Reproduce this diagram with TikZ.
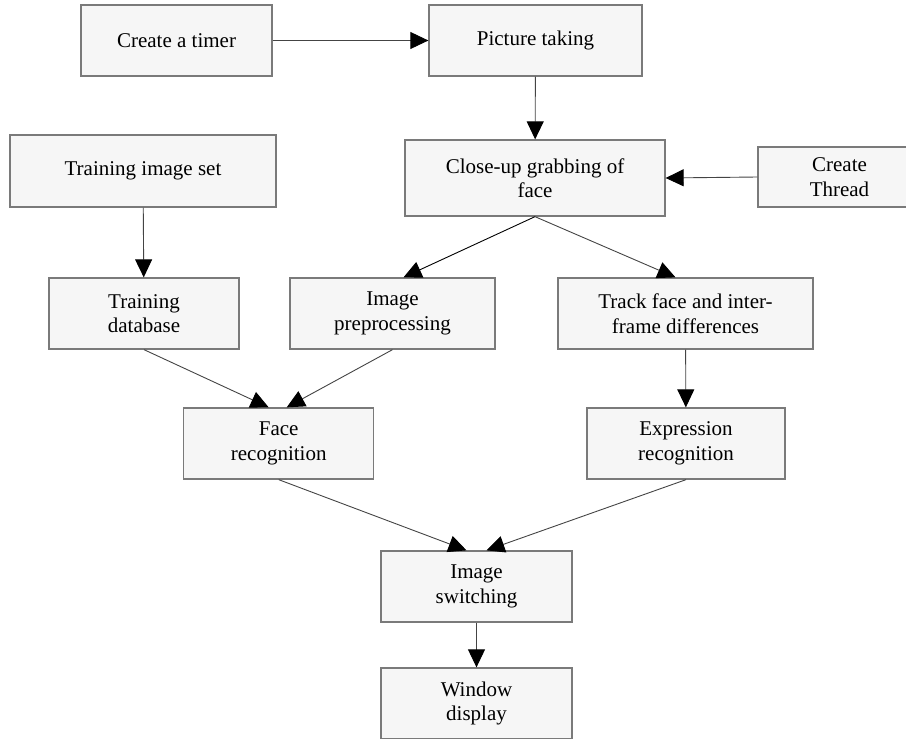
\documentclass[tikz,border=0pt]{standalone}
\usepackage{fontspec}
\setmainfont{Liberation Serif}
\usetikzlibrary{arrows.meta}
\definecolor{boxline}{HTML}{7A7A7A}
\definecolor{boxfill}{HTML}{F6F6F6}
\definecolor{wire}{HTML}{444444}
\begin{document}
\begin{tikzpicture}[x=1pt,y=-1pt,
  stepbox/.style={draw=boxline, line width=1.3pt, fill=boxfill, align=center,
    inner sep=0pt, minimum height=71pt, font=\fontsize{21}{24.5}\selectfont},
  flow/.style={draw=wire, line width=0.9pt,
    -{Triangle[length=18pt,width=17pt,color=black]}}]
\useasboundingbox (0,0) rectangle (906,739);

% process steps
\node[stepbox, minimum width=191pt] (timer) at (176.5,40.5) {Create a timer};
\node[stepbox, minimum width=213pt] (picture) at (535.5,40.5) {Picture taking};
\node[stepbox, minimum width=266pt, minimum height=72pt] (trainset) at (143,171) {Training image set};
\node[stepbox, minimum width=260pt, minimum height=76pt] (closeup) at (535,178) {Close-up grabbing of\\face};
\node[stepbox, minimum width=163pt, minimum height=60pt] (thread) at (839.5,177) {Create\\Thread};
\node[stepbox, minimum width=190pt] (traindb) at (144,313.5) {Training\\database};
\node[stepbox, minimum width=205pt] (preproc) at (392.5,313.5) {Image\\preprocessing};
\node[stepbox, minimum width=255pt] (track) at (685.5,313.5) {Track face and inter-\\frame differences};
\node[stepbox, minimum width=190pt] (facerec) at (278.7,443.5) {Face\\recognition};
\node[stepbox, minimum width=198pt] (exprrec) at (686,443.5) {Expression\\recognition};
\node[stepbox, minimum width=191pt] (switch) at (476.5,586.5) {Image\\switching};
\node[stepbox, minimum width=191pt] (window) at (476.5,703.5) {Window\\display};

% connectors
\draw[flow] (timer) -- (picture);
\draw[flow] (picture) -- (closeup);
\draw[flow] (thread.west) -- (closeup.east);
\draw[flow] (trainset) -- (traindb);
\draw[flow, draw=black] (closeup.south) -- ([xshift=11pt]preproc.north);
\draw[flow] (closeup.south) -- ([xshift=-10pt]track.north);
\draw[flow] (traindb.south) -- ([xshift=-10pt]facerec.north);
\draw[flow] (preproc.south) -- ([xshift=8pt]facerec.north);
\draw[flow] (track) -- (exprrec);
\draw[flow] (facerec.south) -- ([xshift=-10pt]switch.north);
\draw[flow] (exprrec.south) -- ([xshift=10pt]switch.north);
\draw[flow] (switch) -- (window);
\end{tikzpicture}
\end{document}
